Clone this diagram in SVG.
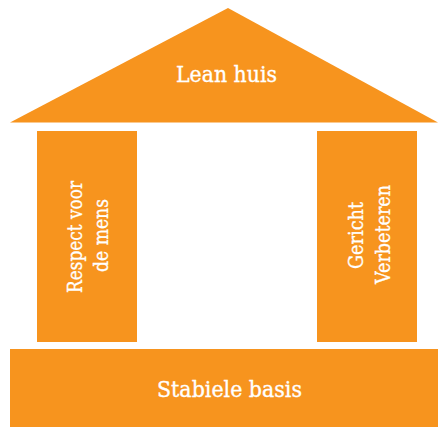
<svg xmlns="http://www.w3.org/2000/svg" width="438" height="427" viewBox="0 0 438 427">
  <style>
    .shape { fill: #F7941E; }
    .label { fill: #FFFFFF; stroke: #FFFFFF; stroke-width: 0.35; font-family: "DejaVu Serif", "Liberation Serif", serif; font-size: 21.5px; text-anchor: middle; }
    .side { font-size: 20px; }
  </style>
  <rect width="438" height="427" fill="#FFFFFF"/>
  <g id="roof">
    <polygon class="shape" points="10,122.5 228,8 438,122.5"/>
    <text class="label" x="226.5" y="82" textLength="101" lengthAdjust="spacingAndGlyphs">Lean huis</text>
  </g>
  <g id="pillar-left">
    <rect class="shape" x="37" y="131" width="100" height="211"/>
    <text class="label side" transform="translate(82,237) rotate(-90)" x="0" y="0" textLength="112" lengthAdjust="spacingAndGlyphs">Respect voor</text>
    <text class="label side" transform="translate(108,235.5) rotate(-90)" x="0" y="0" textLength="73" lengthAdjust="spacingAndGlyphs">de mens</text>
  </g>
  <g id="pillar-right">
    <rect class="shape" x="317" y="131" width="100" height="211"/>
    <text class="label side" transform="translate(363,235.5) rotate(-90)" x="0" y="0" textLength="67" lengthAdjust="spacingAndGlyphs">Gericht</text>
    <text class="label side" transform="translate(390,234.5) rotate(-90)" x="0" y="0" textLength="99" lengthAdjust="spacingAndGlyphs">Verbeteren</text>
  </g>
  <g id="base">
    <rect class="shape" x="10" y="349" width="428" height="78"/>
    <text class="label" x="229.5" y="397" textLength="145" lengthAdjust="spacingAndGlyphs">Stabiele basis</text>
  </g>
  <g id="connectors"/>
</svg>
